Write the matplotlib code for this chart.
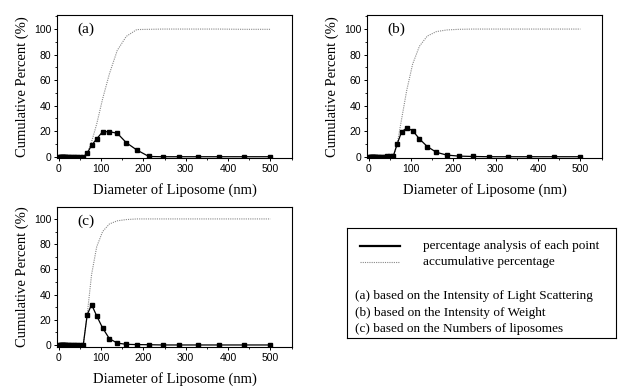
import numpy as np
import matplotlib
matplotlib.use('Agg')
import matplotlib.pyplot as plt
from matplotlib.ticker import MultipleLocator

# diameters (nm), shared by all three panels
diam = [1.5, 3, 4.5, 6, 7.5, 9, 10.5, 12, 14, 16, 18, 21, 24, 28, 33, 38, 44, 50, 58,
        67.3, 77.7, 89.8, 103.7, 119.7, 138.3, 159.7, 184.4, 213, 246, 284, 328, 378, 437, 500]

# (a) intensity of light scattering
pct_a = [0]*19 + [2.7, 9, 14, 19.6, 19.6, 18.4, 11, 5.3, 0.2, 0, 0, 0, 0, 0, 0]
cum_a = [0]*19 + [2.7, 11.7, 25.7, 45.3, 64.9, 83.3, 94.3, 99.6, 99.8, 100, 100, 100, 100, 99.8, 99.8]

# (b) intensity of weight
pct_b = [0]*16 + [0.2, 0.3, 0.4] + [10, 19.5, 22.5, 20.5, 14, 8, 3.5, 1.3, 0.5, 0.2, 0, 0, 0, 0, 0]
cum_b = [0]*19 + [10, 29.5, 52, 72.5, 86.5, 94.5, 98, 99.3, 99.8, 100, 100, 100, 100, 100, 100]

# (c) numbers of liposomes
pct_c = [0]*19 + [24, 32, 23, 13.5, 5, 1.5, 0.5, 0.3, 0.2, 0, 0, 0, 0, 0, 0]
cum_c = [0]*19 + [24, 56, 78, 90, 96, 98.5, 99.5, 100, 100, 100, 100, 100, 100, 100, 100]

panels = ['(a)', '(b)', '(c)']
legend_lines = ['percentage analysis of each point', 'accumulative percentage']
legend_notes = ['(a) based on the Intensity of Light Scattering',
                '(b) based on the Intensity of Weight',
                '(c) based on the Numbers of liposomes']

serif = 'Liberation Serif'
sans = 'Liberation Sans'

fig = plt.figure(figsize=(6.21, 3.87), dpi=100)

boxes = [[0.0918, 0.5917, 0.3784, 0.3695],
         [0.5910, 0.5917, 0.3784, 0.3695],
         [0.0918, 0.1034, 0.3784, 0.3618]]
ylims = [(-1, 111), (-1, 111), (-1.6, 109.5)]
data = [(pct_a, cum_a), (pct_b, cum_b), (pct_c, cum_c)]

for box, yl, (pct, cum), name in zip(boxes, ylims, data, panels):
    ax = fig.add_axes(box)
    ax.plot(diam, cum, color='#888888', lw=0.8, ls=(0, (1, 1)))
    ax.plot(diam, pct, color='black', lw=0.9, marker='s', ms=3.2)
    ax.set_xlim(-4, 551)
    ax.set_ylim(*yl)
    ax.xaxis.set_major_locator(MultipleLocator(100))
    ax.xaxis.set_minor_locator(MultipleLocator(50))
    ax.yaxis.set_major_locator(MultipleLocator(20))
    ax.yaxis.set_minor_locator(MultipleLocator(10))
    ax.tick_params(which='major', length=2.5, width=0.7, pad=1.5, labelsize=7.5)
    ax.tick_params(which='minor', length=1.5, width=0.6)
    for lab in ax.get_xticklabels() + ax.get_yticklabels():
        lab.set_fontfamily(sans)
    for s in ax.spines.values():
        s.set_linewidth(0.8)
    ax.set_xlabel('Diameter of Liposome (nm)', fontfamily=serif, fontsize=10.5, labelpad=7)
    ax.set_ylabel('Cumulative Percent (%)', fontfamily=serif, fontsize=10.5, labelpad=4)
    ax.text(0.085, 0.9, name, transform=ax.transAxes, fontfamily=serif,
            fontsize=11, va='center', ha='left')

# legend box
lg = fig.add_axes([0.5588, 0.1266, 0.4332, 0.2842])
lg.set_xlim(0, 1)
lg.set_ylim(0, 1)
lg.set_xticks([])
lg.set_yticks([])
for s in lg.spines.values():
    s.set_linewidth(0.8)
lg.plot([0.048, 0.197], [0.836, 0.836], color='black', lw=1.6)
lg.plot([0.048, 0.197], [0.691, 0.691], color='#888888', lw=0.8, ls=(0, (1, 1)))
lg.text(0.283, 0.836, legend_lines[0], fontfamily=serif, fontsize=9.5, va='center')
lg.text(0.283, 0.691, legend_lines[1], fontfamily=serif, fontsize=9.5, va='center')
for yy, note in zip([0.382, 0.227, 0.082], legend_notes):
    lg.text(0.03, yy, note, fontfamily=serif, fontsize=9.5, va='center')

fig.savefig('out.png', dpi=100)
